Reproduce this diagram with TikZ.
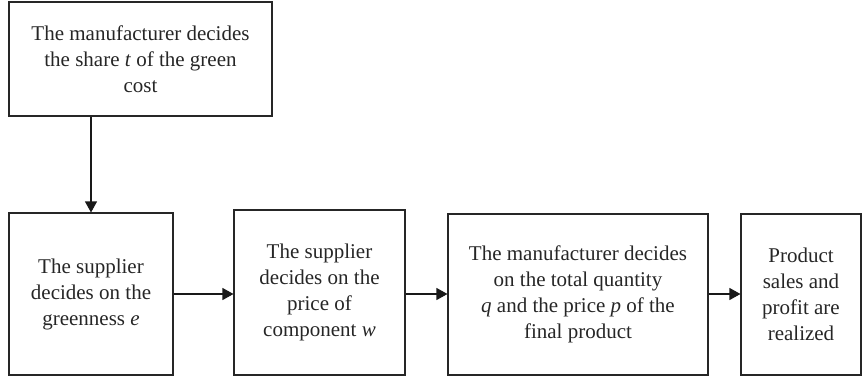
\documentclass[tikz,border=0pt]{standalone}
\usepackage{fontspec}
\setmainfont{Liberation Serif}
\usetikzlibrary{arrows.meta}
\begin{document}
\begin{tikzpicture}[x=1pt,y=1pt,
  stagebox/.style={draw=black!85, line width=1.1pt, rectangle, align=center, inner sep=0pt,
    font=\fontsize{21}{26}\selectfont, text=black!85},
  flow/.style={draw=black!90, line width=1.1pt, -{Triangle[length=11pt,width=12pt]}}]
\useasboundingbox (0,0) rectangle (863,-381);
\node[stagebox, minimum width=263, minimum height=114] (top) at (140.5,-59)
  {The manufacturer decides\\the share \textit{t} of the green\\cost};
\node[stagebox, minimum width=164, minimum height=162] (b1) at (91,-294)
  {The supplier\\decides on the\\greenness \textit{e}};
\node[stagebox, minimum width=171, minimum height=165] (b2) at (319.5,-292.5)
  {The supplier\\decides on the\\price of\\component \textit{w}};
\node[stagebox, minimum width=260, minimum height=161] (b3) at (578,-294.5)
  {The manufacturer decides\\on the total quantity\\\textit{q} and the price \textit{p} of the\\final product};
\node[stagebox, minimum width=120, minimum height=161] (b4) at (801,-294.5)
  {Product\\sales and\\profit are\\realized};
\draw[flow] (top.south -| b1.north) -- (b1.north);
\draw[flow] (b1.east) -- (b1.east -| b2.west);
\draw[flow] (b1.east -| b2.east) -- (b1.east -| b3.west);
\draw[flow] (b1.east -| b3.east) -- (b1.east -| b4.west);
\end{tikzpicture}
\end{document}
